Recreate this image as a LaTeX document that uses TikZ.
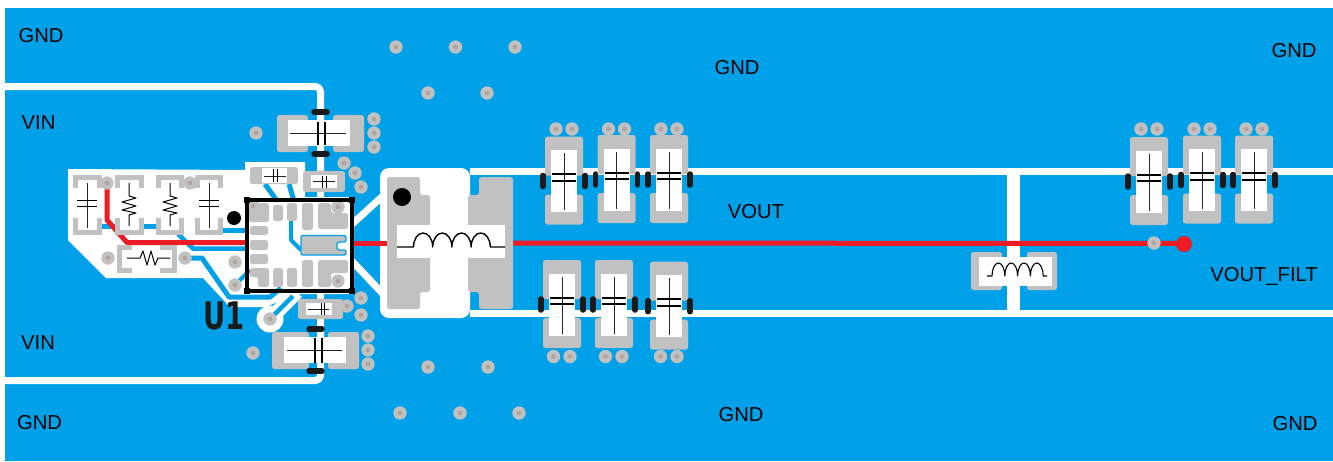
\documentclass[tikz,border=0pt]{standalone}
\usepackage{fontspec}
\setmainfont{Liberation Sans}
\newfontfamily\silkfont{DejaVu Sans}
\definecolor{pcbblue}{HTML}{00A1E8}
\definecolor{padgray}{HTML}{C1C1C1}
\definecolor{viacore}{HTML}{B2A59E}
\definecolor{tracered}{HTML}{ED1C24}
\definecolor{silk}{HTML}{1A1A1A}
\tikzset{
  padfill/.style={fill=padgray,rounded corners=2.5pt},
  clear/.style={draw=white,line width=7pt,line join=round,line cap=round},
  bluetrace/.style={draw=pcbblue,line width=5pt,line join=round},
  redtrace/.style={draw=tracered,line width=5pt,line join=round},
  brk/.style={draw=padgray,line width=4.5pt},
  lead/.style={draw=black!85,line width=.9pt},
  plate/.style={draw=black,line width=2pt},
  bar/.style={draw=silk,line width=5.5pt,line cap=round},
  coil/.style={draw=black,line width=1.4pt,line join=round},
  netlabel/.style={text=black,font=\fontsize{20.2pt}{21pt}\selectfont,inner sep=0pt},
}
\newcommand{\pcvia}[2]{\fill[padgray] (#1,#2) circle[radius=6.7pt];\fill[viacore] (#1,#2) circle[radius=2.4pt];}
% large vertical output capacitor: centre x, plate mid y
\newcommand{\pcvcap}[2]{
  \fill[padfill] (#1-19,#2-41) rectangle (#1+19,#2-2);
  \fill[padfill] (#1-19,#2+17) rectangle (#1+19,#2+47);
  \fill[white] (#1-13,#2-27.5) rectangle (#1+13,#2+34.5);
  \draw[lead] (#1,#2-24.5) -- (#1,#2+32.5);
  \draw[plate] (#1-12,#2-3.3) -- (#1+12,#2-3.3);
  \draw[plate] (#1-12,#2+3.3) -- (#1+12,#2+3.3);
  \draw[bar] (#1-21,#2-2) -- (#1-21,#2+9);
  \draw[bar] (#1+21,#2-2) -- (#1+21,#2+9);
}
% bracket outline pad pair of the input parts
\newcommand{\pcbrk}[2]{
  \draw[brk] (#1+2.3,188) -- (#1+2.3,177.5) -- (#2-2.3,177.5) -- (#2-2.3,188);
  \draw[brk] (#1+2.3,218) -- (#1+2.3,232.5) -- (#2-2.3,232.5) -- (#2-2.3,218);
}
\newcommand{\pcsmallcap}[1]{
  \draw[lead] (#1,183) -- (#1,228);
  \draw[draw=black,line width=1pt] (#1-10,200.5) -- (#1+10,200.5) (#1-10,206) -- (#1+10,206);
}
\newcommand{\pcvres}[1]{
  \draw[draw=black,line width=1pt,line join=round] (#1,183) -- (#1,196) -- (#1+7,198) -- (#1-7,202) -- (#1+7,206) -- (#1-7,210) -- (#1+7,213) -- (#1,215) -- (#1,226);
}
\begin{document}
\begin{tikzpicture}[x=1pt,y=-1pt]
\useasboundingbox (0,0) rectangle (1333,461);
\fill[white] (0,0) rectangle (1333,461);
\fill[pcbblue] (5,8) rectangle (1333,461);

% clearances (white copper gaps)
\draw[clear,line cap=butt,rounded corners=5pt] (5,86.5) -- (320.5,86.5) -- (320.5,200);
\draw[clear,line cap=butt,rounded corners=5pt] (5,380.5) -- (320.5,380.5) -- (320.5,290);
\draw[clear,line cap=butt] (470,171.5) -- (1333,171.5);
\draw[clear,line cap=butt] (470,313.5) -- (1333,313.5);
\draw[draw=white,line width=13pt] (1013.5,171) -- (1013.5,314);
\fill[white,rounded corners=9pt] (380,168) rectangle (470,318);
\fill[white] (68,169) -- (245,170) -- (245,162) -- (305,162) -- (305,197) -- (354,197) -- (354,294) -- (296,294) -- (266,307) -- (230,307) -- (203,278) -- (106,278) -- (68,240) -- cycle;
\draw[draw=white,line width=14pt] (270,319) -- (297,292);
\fill[white] (270,319) circle[radius=13.5pt];
\draw[clear] (350,226) -- (385,194);
\draw[clear] (350,259) -- (385,296);

% blue copper inside the clearance
\draw[bluetrace] (102,226) -- (115,226);
\draw[bluetrace] (144,226) -- (156,226);
\draw[bluetrace] (223,230.5) -- (248,230.5);
\draw[bluetrace,line width=4.5pt] (178,234) -- (193,248.5) -- (248,248.5);
\draw[bluetrace] (180,258) -- (202,258) -- (229,297) -- (270,297) -- (281,288);
\draw[bluetrace,line width=4.5pt] (270,319) -- (293,296);
\draw[bluetrace,line width=4pt] (235,285) -- (250,270);
\draw[bluetrace] (265,184) -- (277,201);
\draw[bluetrace] (289,184) -- (294,201);
\draw[bluetrace,line width=4pt] (291,221) -- (291,240) -- (301,250);

% red sense trace
\draw[redtrace] (107,187) -- (107,220) -- (127,242.5) -- (248,242.5);
\draw[redtrace] (352,243) -- (390,243);
\draw[redtrace] (500,243) -- (1184,243.5);

% U1 pads
\fill[padfill] (249,203) -- (269,203) -- (269,222) -- (249,222) -- cycle;
\fill[padfill] (273,205) rectangle (283,221);
\fill[padfill] (287,203) rectangle (297,221);
\fill[padfill] (302,203) rectangle (313,230);
\fill[padfill] (318,203) -- (331,203) -- (331,213) -- (348,213) -- (348,229) -- (318,229) -- cycle;
\fill[padfill] (250,226) rectangle (268,235);
\fill[padfill] (250,240) rectangle (268,250);
\fill[padfill] (250,254) rectangle (268,264);
\fill[padfill] (250,268) -- (269,268) -- (269,287) -- (258,287) -- (258,277) -- (250,277) -- cycle;
\fill[padfill] (273,268) rectangle (283,287);
\fill[padfill] (287,268) rectangle (297,287);
\fill[padfill] (302,260) rectangle (313,287);
\fill[padfill] (318,260) -- (348,260) -- (348,273) -- (331,273) -- (331,287) -- (318,287) -- cycle;
\fill[padgray,draw=pcbblue,line width=1.3pt,rounded corners=2pt] (301,235.5) -- (346,235.5) -- (346,242) -- (337,242) -- (337,250) -- (346,250) -- (346,255) -- (301,255) -- cycle;

% vias
\pcvia{396}{47}\pcvia{455.5}{47}\pcvia{515}{47}\pcvia{428}{93}\pcvia{487}{93}
\pcvia{400}{413}\pcvia{460}{413}\pcvia{519}{413}\pcvia{428}{367}\pcvia{488}{367}
\pcvia{374}{119}\pcvia{374}{133}\pcvia{374}{147}
\pcvia{344}{163}\pcvia{355}{173}\pcvia{361}{187}\pcvia{256}{133}
\pcvia{107}{183}\pcvia{190}{183}\pcvia{108}{258}\pcvia{185}{258}
\pcvia{235}{262}\pcvia{235}{285}\pcvia{270}{319}
\pcvia{253}{206}\pcvia{338}{207}\pcvia{338}{281}
\pcvia{347}{306}\pcvia{361}{298}\pcvia{361}{315}
\pcvia{368}{336}\pcvia{368}{350}\pcvia{368}{364}\pcvia{253}{353}
\pcvia{1154}{243}
\fill[tracered] (1184,244) circle[radius=8pt];
\fill[black] (234,218) circle[radius=7pt];

% U1 outline
\draw[draw=black,line width=4pt,line join=miter] (247,199.5) rectangle (352,290.5);
\foreach \cx/\cy in {247/199.5,352/199.5,247/290.5,352/290.5}{\fill[black] (\cx-3,\cy-3) rectangle (\cx+3,\cy+3);}

% input parts
\pcbrk{73}{102}\pcbrk{115}{144}\pcbrk{156}{184}\pcbrk{195}{223}
\pcsmallcap{87}\pcsmallcap{209}
\pcvres{129}\pcvres{170}
\draw[brk] (132,247.3) -- (119.3,247.3) -- (119.3,270.7) -- (132,270.7);
\draw[brk] (160,247.3) -- (174.7,247.3) -- (174.7,270.7) -- (160,270.7);
\draw[draw=black,line width=1pt,line join=round] (127,258) -- (140,258) -- (143,251) -- (147,265) -- (151,251) -- (155,265) -- (158,258) -- (170,258);

% small caps around U1
\fill[padfill] (250,167) rectangle (298,184);
\fill[white] (262,168) rectangle (287,183);
\draw[lead] (264,176) -- (286,176);
\draw[draw=black,line width=1pt] (273.5,169) -- (273.5,182) (277,169) -- (277,182);
\fill[padfill] (303,171) rectangle (345,192);
\fill[white] (311,175) rectangle (337,188);
\draw[lead] (313,181) -- (335,181);
\draw[draw=black,line width=1pt] (322.5,175.5) -- (322.5,187.5) (326,175.5) -- (326,187.5);
\fill[padfill] (298,299) rectangle (343,319);
\fill[white] (306,303) rectangle (332,315);
\draw[lead] (308,309) -- (329,309);
\draw[draw=black,line width=1pt] (321,303) -- (321,315) (324.5,303) -- (324.5,315);

% large input caps
\fill[padfill] (277,115) rectangle (308,152);
\fill[padfill] (333,115) rectangle (364,152);
\fill[white] (288,120) rectangle (350,146);
\draw[lead] (290,133.5) -- (346,133.5);
\draw[plate] (318,122) -- (318,145);
\draw[plate] (325,122) -- (325,145);
\draw[bar] (314,112) -- (327,112);
\draw[bar] (314,154) -- (327,154);
\fill[padfill] (272,332) rectangle (309,369);
\fill[padfill] (328,332) rectangle (359,369);
\fill[white] (284,337) rectangle (346,363);
\draw[lead] (287,350) -- (342,350);
\draw[plate] (315,338) -- (315,363);
\draw[plate] (322,338) -- (322,363);
\draw[bar] (309,329) -- (322,329);
\draw[bar] (309,371) -- (322,371);

% output inductor
\fill[padfill] (387,177) -- (420,177) -- (420,195) -- (430,195) -- (430,292) -- (420,292) -- (420,309) -- (387,309) -- cycle;
\fill[padfill] (479,177) -- (513,177) -- (513,309) -- (479,309) -- (479,292) -- (468,292) -- (468,195) -- (479,195) -- cycle;
\fill[white] (397,225) rectangle (505,258);
\fill[black] (402,197) circle[radius=9pt];
\draw[coil] (397,247) -- (413.5,247)
  arc[start angle=180,end angle=0,x radius=9.6pt,y radius=14pt]
  arc[start angle=180,end angle=0,x radius=9.6pt,y radius=14pt]
  arc[start angle=180,end angle=0,x radius=9.6pt,y radius=14pt]
  arc[start angle=180,end angle=0,x radius=9.6pt,y radius=14pt]
  -- (505,247);

% output caps
\pcvcap{564}{177.5}\pcvcap{616.5}{176}\pcvcap{669}{176}
\pcvcap{562}{301}\pcvcap{614}{301}\pcvcap{669}{302.7}
\pcvcap{1149}{178}\pcvcap{1202}{176.5}\pcvcap{1254}{176.5}
\foreach \vx in {564,616.5,669,1149,1202,1254}{\pcvia{\vx-8}{129}\pcvia{\vx+8}{129}}
\foreach \vx in {562,614,669}{\pcvia{\vx-8.5}{356.5}\pcvia{\vx+8}{356.5}}

% filter inductor
\fill[padfill] (971,252) rectangle (1002,290);
\fill[padfill] (1027,252) rectangle (1057,290);
\fill[white] (979,257) rectangle (1052,286);
\draw[coil,line width=1.1pt] (987,276) -- (992,276)
  arc[start angle=180,end angle=0,x radius=6.4pt,y radius=13pt]
  arc[start angle=180,end angle=0,x radius=6.4pt,y radius=13pt]
  arc[start angle=180,end angle=0,x radius=6.4pt,y radius=13pt]
  arc[start angle=180,end angle=0,x radius=6.4pt,y radius=13pt]
  -- (1047,276);

% labels
\node[netlabel] (gndtl) at (41,36) {GND};
\node[netlabel] (gndtr) at (1294,51) {GND};
\node[netlabel] (gndtc) at (737,68) {GND};
\node[netlabel] (vint) at (38.5,123) {VIN};
\node[netlabel] (vout) at (756,212) {VOUT};
\node[netlabel] (voutf) at (1264,276) {VOUT\_FILT};
\node[netlabel] (vinb) at (38,343) {VIN};
\node[netlabel] (gndbl) at (39.5,423) {GND};
\node[netlabel] (gndbc) at (741,415) {GND};
\node[netlabel] (gndbr) at (1295,424) {GND};
\node[text=silk,inner sep=0pt,xscale=.72,font=\silkfont\bfseries\fontsize{38pt}{38pt}\selectfont] (u1) at (224,316) {U1};
\end{tikzpicture}
\end{document}
